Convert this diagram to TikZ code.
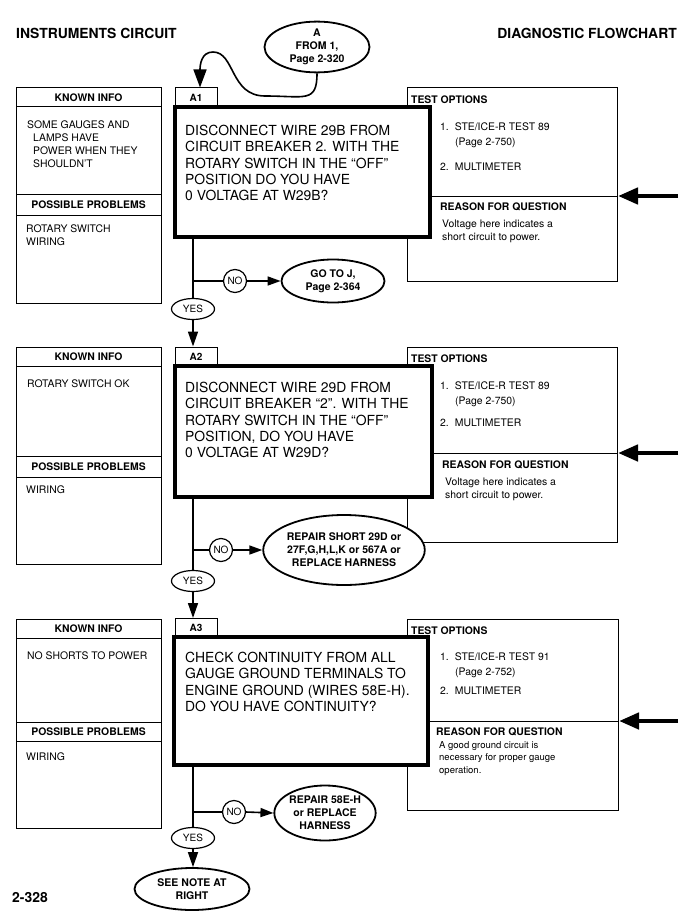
\documentclass[tikz,border=0pt]{standalone}
\usepackage{fontspec}
\setmainfont{TeX Gyre Heros}
\usetikzlibrary{shapes.geometric,arrows.meta}

\tikzset{
  pagetitle/.style={font=\fontsize{13.9}{16}\selectfont\bfseries, inner sep=0pt},
  thinbox/.style={draw, line width=1pt},
  headtxt/.style={font=\fontsize{10.4}{12.7}\selectfont\bfseries, inner sep=0pt},
  smalltxt/.style={font=\fontsize{10.4}{12.7}\selectfont, inner sep=0pt, align=left, anchor=north west},
  qtxt/.style={font=\fontsize{13.9}{16.3}\selectfont, inner sep=0pt, align=left, anchor=north west},
  tabbox/.style={draw, line width=1pt, fill=white, minimum width=42pt, minimum height=19pt, inner sep=0pt, font=\fontsize{10}{12}\selectfont\bfseries},
  qbox/.style={draw, line width=4.5pt, fill=white, inner sep=0pt},
  answer/.style={ellipse, draw, line width=1.2pt, fill=white, inner sep=0pt, minimum width=43pt, minimum height=21pt, font=\fontsize{10}{12}\selectfont},
  nocirc/.style={circle, draw, line width=1.2pt, fill=white, inner sep=0pt, minimum size=23pt, font=\fontsize{10}{12}\selectfont},
  goto/.style={ellipse, draw, line width=1.8pt, fill=white, inner sep=0pt, align=center, font=\fontsize{10.5}{13}\selectfont\bfseries},
  flow/.style={line width=1.6pt},
  downarrow/.style={line width=1.6pt, -{Triangle[length=15pt,width=10pt]}},
  noarrow/.style={line width=1.6pt, -{Triangle[length=13pt,width=9pt]}},
  sidearrow/.style={line width=4.5pt, -{Triangle[length=20pt,width=16pt]}},
}

\begin{document}
\begin{tikzpicture}[x=1pt, y=-1pt]
  \useasboundingbox (0,0) rectangle (693,923);

  % ==========================================
  % PAGE HEADER
  % ==========================================
  \node[pagetitle, anchor=west] (ttlL) at (16,33) {INSTRUMENTS CIRCUIT};
  \node[pagetitle, anchor=east] (ttlR) at (677,33) {DIAGNOSTIC FLOWCHART};
  \node[goto, minimum width=105pt, minimum height=50pt] (entry) at (317,47) {A\\FROM 1,\\Page 2-320};
  \node[pagetitle, anchor=west] (pgno) at (12,898) {2-328};

  % ==========================================
  % STEP A1
  % ==========================================
  \begin{scope}[shift={(0,88)}]
    % known info / possible problems
    \draw[thinbox] (16,0) rectangle (161,215);
    \draw[thinbox] (16,19) -- (161,19);
    \draw[thinbox] (16,106) -- (161,106);
    \draw[thinbox] (16,127) -- (161,127);
    \node[headtxt] (K1head) at (88.5,9.5) {KNOWN INFO};
    \node[smalltxt] (K1txt) at (27,33) {SOME GAUGES AND\\\hspace*{6pt}LAMPS HAVE\\\hspace*{6pt}POWER WHEN THEY\\\hspace*{6pt}SHOULDN'T};
    \node[headtxt] (P1head) at (88.5,116.5) {POSSIBLE PROBLEMS};
    \node[smalltxt] (P1txt) at (26,137) {ROTARY SWITCH\\WIRING};

    % test options / reason for question
    \draw[thinbox] (407,0) rectangle (617,193);
    \draw[thinbox] (407,108) -- (617,108);
    \node[headtxt, anchor=west] (T1head) at (411,12) {TEST OPTIONS};
    \node[smalltxt] (T1txt) at (440,35) {1.\hspace{6pt}STE/ICE-R TEST 89\\[2pt]\hspace*{15pt}(Page 2-750)\\[12pt]2.\hspace{6pt}MULTIMETER};
    \node[headtxt, anchor=west] (R1head) at (440,119) {REASON FOR QUESTION};
    \node[smalltxt] (R1txt) at (442,132) {Voltage here indicates a\\short circuit to power.};
    \coordinate (in1) at (678,108);
    \coordinate (tr1) at (618,108);
    \draw[sidearrow] (in1) -- (tr1);

    % question
    \node[tabbox] (A1) at (196,9.5) {A1};
    \node[qbox, minimum width=255pt, minimum height=130pt] (Q1) at (302.5,84) {};
    \node[qtxt] (Q1txt) at (185,37) {DISCONNECT WIRE 29B FROM\\CIRCUIT BREAKER 2. WITH THE\\ROTARY SWITCH IN THE ``OFF''\\POSITION DO YOU HAVE\\0 VOLTAGE AT W29B?};

    % answers
    \node[answer] (Y1) at (193,221) {YES};
    \node[nocirc] (N1) at (235,193) {NO};
    \node[goto, minimum width=103pt, minimum height=43pt] (G1) at (333,193) {GO TO J,\\Page 2-364};
    \coordinate (b1) at (Y1 |- N1);
    \draw[flow] (Q1.south -| Y1) -- (Y1.north);
    \draw[flow] (b1) -- (N1.west);
    \draw[noarrow] (N1.east) -- (G1.west);
  \end{scope}

  % entry connector
  \draw[line width=1.6pt, -{Triangle[length=18pt,width=13pt]}] (entry.south)
    .. controls +(0,30) and +(40,0) .. (265,96)
    .. controls +(-35,0) and +(22,0) .. (213,52)
    .. controls +(-12,0) and +(0,-22) .. ([xshift=4pt]A1.north);

  % ==========================================
  % STEP A2
  % ==========================================
  \begin{scope}[shift={(0,347)}]
    % known info / possible problems
    \draw[thinbox] (16,0) rectangle (161,217);
    \draw[thinbox] (16,19) -- (161,19);
    \draw[thinbox] (16,109) -- (161,109);
    \draw[thinbox] (16,130) -- (161,130);
    \node[headtxt] (K2head) at (88.5,9.5) {KNOWN INFO};
    \node[smalltxt] (K2txt) at (27,33) {ROTARY SWITCH OK};
    \node[headtxt] (P2head) at (88.5,119.5) {POSSIBLE PROBLEMS};
    \node[smalltxt] (P2txt) at (26,139) {WIRING};

    % test options / reason for question
    \draw[thinbox] (407,0) rectangle (617,195);
    \draw[thinbox] (407,106) -- (617,106);
    \node[headtxt, anchor=west] (T2head) at (411,12) {TEST OPTIONS};
    \node[smalltxt] (T2txt) at (440,35) {1.\hspace{6pt}STE/ICE-R TEST 89\\[2pt]\hspace*{15pt}(Page 2-750)\\[9pt]2.\hspace{6pt}MULTIMETER};
    \node[headtxt, anchor=west] (R2head) at (442,118) {REASON FOR QUESTION};
    \node[smalltxt] (R2txt) at (445,131) {Voltage here indicates a\\short circuit to power.};
    \coordinate (in2) at (678,106);
    \coordinate (tr2) at (618,106);
    \draw[sidearrow] (in2) -- (tr2);

    % question
    \node[tabbox] (A2) at (196,9.5) {A2};
    \node[qbox, minimum width=257pt, minimum height=131pt] (Q2) at (303.5,84.5) {};
    \node[qtxt] (Q2txt) at (185,35) {DISCONNECT WIRE 29D FROM\\CIRCUIT BREAKER ``2''. WITH THE\\ROTARY SWITCH IN THE ``OFF''\\POSITION, DO YOU HAVE\\0 VOLTAGE AT W29D?};

    % answers
    \node[answer] (Y2) at (193,234) {YES};
    \node[nocirc] (N2) at (221,203) {NO};
    \node[goto, minimum width=154pt, minimum height=70pt] (G2) at (344,203) {REPAIR SHORT 29D or\\27F,G,H,L,K or 567A or\\REPLACE HARNESS};
    \coordinate (b2) at (Y2 |- N2);
    \draw[flow] (Q2.south -| Y2) -- (Y2.north);
    \draw[flow] (b2) -- (N2.west);
    \draw[noarrow] (N2.east) -- (G2.west);
  \end{scope}

  \draw[downarrow] (Y1.south) -- (Y1.south |- A2.north);

  % ==========================================
  % STEP A3
  % ==========================================
  \begin{scope}[shift={(0,619)}]
    % known info / possible problems
    \draw[thinbox] (16,0) rectangle (161,209);
    \draw[thinbox] (16,19) -- (161,19);
    \draw[thinbox] (16,103) -- (161,103);
    \draw[thinbox] (16,122) -- (161,122);
    \node[headtxt] (K3head) at (88.5,9.5) {KNOWN INFO};
    \node[smalltxt] (K3txt) at (27,33) {NO SHORTS TO POWER};
    \node[headtxt] (P3head) at (88.5,112.5) {POSSIBLE PROBLEMS};
    \node[smalltxt] (P3txt) at (26,134) {WIRING};

    % test options / reason for question
    \draw[thinbox] (407,0) rectangle (618,191);
    \draw[thinbox] (407,102) -- (618,102);
    \node[headtxt, anchor=west] (T3head) at (411,12) {TEST OPTIONS};
    \node[smalltxt] (T3txt) at (440,34) {1.\hspace{6pt}STE/ICE-R TEST 91\\[2pt]\hspace*{15pt}(Page 2-752)\\[6pt]2.\hspace{6pt}MULTIMETER};
    \node[headtxt, anchor=west] (R3head) at (436,113) {REASON FOR QUESTION};
    \node[smalltxt, font=\fontsize{9.5}{12.5}\selectfont] (R3txt) at (439,122) {A good ground circuit is\\necessary for proper gauge\\operation.};
    \coordinate (in3) at (678,102);
    \coordinate (tr3) at (619,102);
    \draw[sidearrow] (in3) -- (tr3);

    % question
    \node[tabbox] (A3) at (196,9) {A3};
    \node[qbox, minimum width=254pt, minimum height=128pt] (Q3) at (301,82) {};
    \node[qtxt] (Q3txt) at (185,33) {CHECK CONTINUITY FROM ALL\\GAUGE GROUND TERMINALS TO\\ENGINE GROUND (WIRES 58E-H).\\DO YOU HAVE CONTINUITY?};

    % answers
    \node[answer] (Y3) at (193,219) {YES};
    \node[nocirc] (N3) at (234,193) {NO};
    \node[goto, minimum width=100pt, minimum height=55pt] (G3) at (325,194) {REPAIR 58E-H\\or REPLACE\\HARNESS};
    \node[goto, minimum width=115pt, minimum height=42pt] (G4) at (192,270) {SEE NOTE AT\\RIGHT};
    \coordinate (b3) at (Y3 |- N3);
    \draw[flow] (Q3.south -| Y3) -- (Y3.north);
    \draw[flow] (b3) -- (N3.west);
    \draw[noarrow] (N3.east) -- (G3.west);
    \draw[downarrow] (Y3.south) -- (Y3.south |- G4.north);
  \end{scope}

  \draw[downarrow] (Y2.south) -- (Y2.south |- A3.north);

\end{tikzpicture}
\end{document}
